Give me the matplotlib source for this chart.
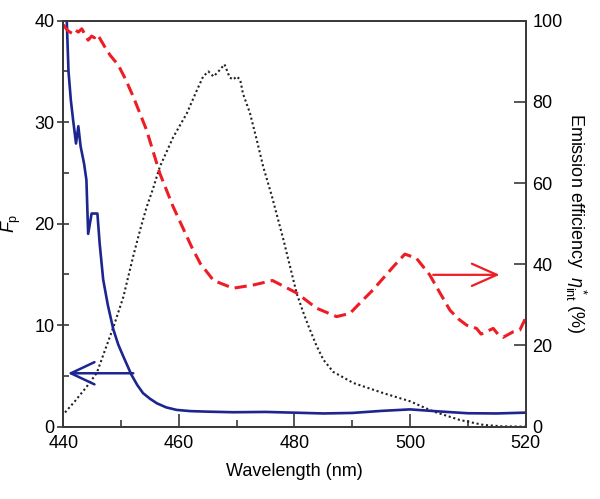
import numpy as np
import matplotlib
matplotlib.use('Agg')
import matplotlib.pyplot as plt
from matplotlib.ticker import MultipleLocator

plt.rcParams['font.family'] = ['Liberation Sans Narrow', 'Liberation Sans', 'DejaVu Sans']
plt.rcParams['mathtext.fontset'] = 'custom'
plt.rcParams['mathtext.rm'] = 'Liberation Sans'
plt.rcParams['mathtext.it'] = 'Liberation Sans:italic'

# Purcell factor F_p (left axis)
wl_fp = [440.6, 440.9, 441.3, 441.7, 442.2, 442.6, 443.0, 443.6, 444.0, 444.3,
         444.9, 445.9, 446.3, 446.9, 447.7, 448.65, 449.5, 450.4, 451.8, 452.8,
         453.8, 455.0, 456.2, 457.8, 459.6, 462.0, 464.8, 469.4, 475.0, 479.8,
         485.0, 490.0, 495.0, 500.0, 505.0, 510.0, 515.0, 520.0]
fp = [40.0, 35.0, 32.2, 30.2, 27.9, 29.6, 27.6, 25.9, 24.3, 19.0,
      21.0, 21.0, 18.0, 14.5, 12.0, 9.6, 8.1, 6.9, 5.1, 4.1,
      3.3, 2.75, 2.3, 1.9, 1.65, 1.53, 1.48, 1.42, 1.45, 1.38,
      1.3, 1.35, 1.55, 1.7, 1.5, 1.32, 1.3, 1.38]

# emission efficiency (right axis, %)
wl_eta = [440.0, 440.8, 441.5, 442.0, 442.6, 443.2, 443.6, 444.3, 444.9, 445.4,
          445.8, 446.3, 447.2, 448.1, 449.5, 450.8, 452.1, 454.4, 456.7, 459.0,
          462.2, 463.7, 466.0, 469.4, 472.9, 476.2, 479.2, 480.4, 483.8, 487.3,
          489.6, 491.3, 493.6, 497.1, 499.1, 501.1, 503.4, 505.2, 506.9, 508.4,
          509.8, 511.5, 512.3, 513.2, 514.4, 515.2, 516.1, 517.9, 519.0, 520.0]
eta = [99.0, 97.5, 96.9, 97.8, 97.2, 98.0, 97.0, 95.2, 96.2, 95.8,
       96.6, 95.7, 93.5, 91.5, 89.1, 85.5, 81.3, 73.1, 62.4, 54.2,
       44.3, 40.2, 36.0, 34.1, 34.9, 36.0, 33.8, 32.9, 29.2, 27.1,
       27.9, 30.4, 33.7, 39.4, 42.5, 41.5, 37.4, 32.9, 28.7, 26.5,
       25.0, 24.2, 22.8, 23.4, 24.2, 22.8, 22.0, 23.4, 23.8, 26.7]

# emission spectrum (dotted, arbitrary units on left scale)
wl_spec = [440.3, 442.0, 444.0, 445.8, 447.0, 448.7, 450.4, 452.1, 453.3, 454.4,
           455.5, 456.7, 459.0, 461.4, 463.0, 464.2, 465.1, 466.0, 467.0, 467.9,
           468.8, 469.4, 470.0, 470.6, 471.1, 472.3, 473.5, 474.6, 476.1, 478.1,
           480.4, 481.5, 482.5, 483.8, 485.0, 486.7, 490.2, 495.4, 500.0, 504.0,
           508.6, 512.7, 516.0, 520.0]
spec = [1.4, 2.5, 3.9, 5.3, 7.2, 9.85, 12.8, 16.8, 19.4, 21.6,
        23.4, 25.6, 28.5, 30.9, 33.0, 34.5, 35.0, 34.5, 35.1, 35.7,
        34.4, 34.2, 34.5, 34.2, 32.8, 30.9, 28.2, 25.6, 22.7, 18.4,
        13.1, 11.3, 9.8, 8.0, 6.6, 5.4, 4.3, 3.3, 2.5, 1.5,
        0.66, 0.17, 0.03, 0.0]

blue = '#1c2590'
red = '#ee1c24'
spine_c = '#3a3a3a'

fig = plt.figure(figsize=(6, 4.99), dpi=100)
ax = fig.add_axes([0.1055, 0.145, 0.7705, 0.8135])
ax2 = ax.twinx()

ax.plot(wl_spec, spec, color='#222222', lw=1.5, linestyle=(0, (1, 1.3)))
ax.plot(wl_fp, fp, color=blue, lw=1.9)
ax2.plot(wl_eta, eta, color=red, lw=2.2, linestyle=(0, (4, 2)))

# arrows pointing to the axes
ax.annotate('', xy=(440.8, 5.26), xytext=(452.1, 5.26),
            arrowprops=dict(arrowstyle='->,head_length=17,head_width=8',
                            mutation_scale=1, color=blue, lw=1.8,
                            shrinkA=0, shrinkB=0))
ax2.annotate('', xy=(515.5, 37.4), xytext=(504.0, 37.4),
             arrowprops=dict(arrowstyle='->,head_length=18,head_width=8',
                             mutation_scale=1, color=red, lw=1.6,
                             shrinkA=0, shrinkB=0))

ax.set_xlim(440, 520)
ax.set_ylim(0, 40)
ax2.set_ylim(0, 100)

ax.xaxis.set_major_locator(MultipleLocator(20))
ax.xaxis.set_minor_locator(MultipleLocator(10))
ax.yaxis.set_major_locator(MultipleLocator(10))
ax.yaxis.set_minor_locator(MultipleLocator(5))
ax2.yaxis.set_major_locator(MultipleLocator(20))

for a in (ax, ax2):
    for s in a.spines.values():
        s.set_color(spine_c)
        s.set_linewidth(1.3)

ax.tick_params(axis='x', which='major', direction='in', length=9.5, width=1.2,
               color=spine_c, labelsize=13, pad=6, top=False)
ax.tick_params(axis='x', which='minor', direction='in', length=5, width=1.2,
               color=spine_c, top=False)
ax.tick_params(axis='y', which='major', direction='inout', length=9, width=1.2,
               color=spine_c, labelsize=13, pad=2)
ax.tick_params(axis='y', which='minor', direction='in', length=4, width=1.2,
               color=spine_c)
ax2.tick_params(axis='y', which='major', direction='in', length=9, width=1.2,
                color=spine_c, labelsize=13, pad=5)

ax.set_xlabel('Wavelength (nm)', fontsize=13, labelpad=8)
ax.set_ylabel(r'$F_{\rm p}$', fontsize=13)
ax.yaxis.set_label_coords(-0.088, 0.5)
ax2.set_ylabel(r'Emission efficiency  $\eta^*_{\rm int}$ (%)', fontsize=13,
               rotation=270, labelpad=18)

fig.savefig('out.png', dpi=100)
